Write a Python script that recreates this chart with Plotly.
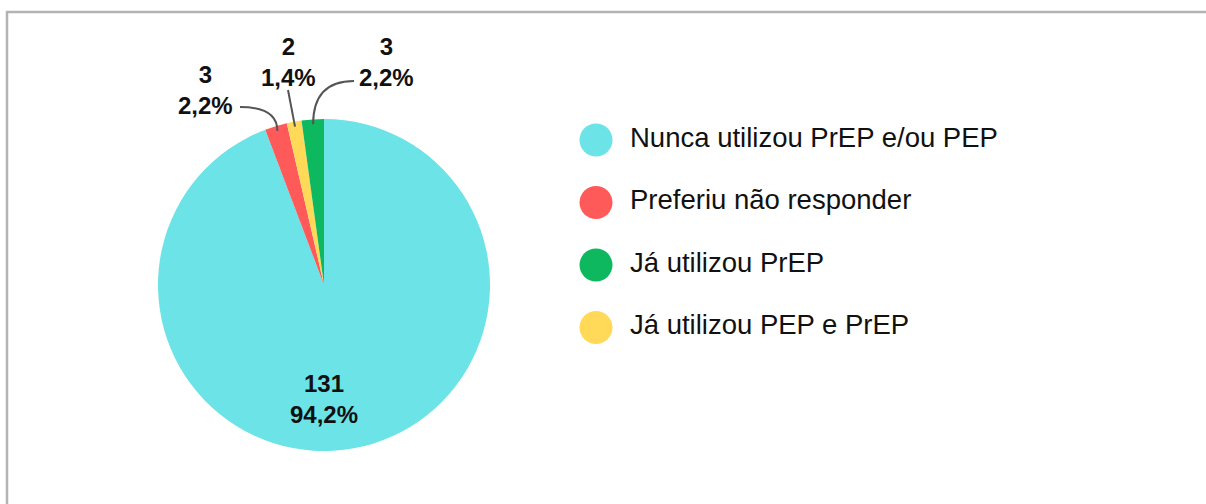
import math
import plotly.graph_objects as go

# ---------------- data ----------------
pie_categories = ["Nunca utilizou PrEP e/ou PEP", "Preferiu não responder",
                  "Já utilizou PEP e PrEP", "Já utilizou PrEP"]
pie_values = [131, 3, 2, 3]
pie_colors = ["#6BE3E7", "#FF5A5A", "#FFD957", "#0DB85E"]

legend_categories = ["Nunca utilizou PrEP e/ou PEP", "Preferiu não responder",
                     "Já utilizou PrEP", "Já utilizou PEP e PrEP"]
legend_colors = ["#6BE3E7", "#FF5A5A", "#0DB85E", "#FFD957"]

# ---------------- layout constants ----------------
W, H = 1206, 504
FONT = "Liberation Sans, Arial, sans-serif"
pie_cx, pie_cy, pie_r = 324, 285, 166          # pixel placement of pie
dom_x = [(pie_cx - pie_r) / W, (pie_cx + pie_r) / W]
dom_y = [1 - (pie_cy + pie_r) / H, 1 - (pie_cy - pie_r) / H]

# label placement for the small slices (index -> (label center x, y, connector start x, y, curved))
small_label_pos = {
    1: (205, 90, 240, 107, True),
    2: (288, 62, 288, 90, False),
    3: (386, 62, 354, 81, True),
}
big_label_pos = (324, 399)
legend_x, legend_y0, legend_step = 596, 140, 62.5
legend_text_gap = 34
LABEL_SIZE = 24
LEGEND_SIZE = 27.5

total = sum(pie_values)


def fmt_pct(v):
    return f"{v / total * 100:.1f}".replace(".", ",") + "%"


fig = go.Figure()

fig.add_trace(go.Pie(
    labels=pie_categories, values=pie_values, sort=False, direction="clockwise",
    rotation=0, marker=dict(colors=pie_colors, line=dict(width=0)),
    textinfo="none", hoverinfo="label+value+percent", showlegend=False,
    domain=dict(x=dom_x, y=dom_y),
))

# legend drawn as markers on a hidden pixel-like axis
ys = [legend_y0 + i * legend_step for i in range(len(legend_categories))]
fig.add_trace(go.Scatter(
    x=[legend_x] * len(legend_categories), y=ys, mode="markers",
    marker=dict(size=33, color=legend_colors, line=dict(width=0)),
    showlegend=False, hoverinfo="skip",
))
fig.add_trace(go.Scatter(
    x=[legend_x + legend_text_gap] * len(legend_categories), y=ys, mode="text",
    text=legend_categories, textposition="middle right",
    textfont=dict(size=LEGEND_SIZE, color="#111111", family=FONT),
    showlegend=False, hoverinfo="skip",
))

annotations = []
shapes = []

# frame
shapes.append(dict(type="rect", xref="x", yref="y", x0=7, y0=12, x1=W + 20, y1=H + 20,
                   line=dict(color="#B3B3B3", width=2.5), layer="below"))

cum = 0
for i, v in enumerate(pie_values):
    mid = (cum + v / 2) / total * 2 * math.pi
    cum += v
    if i == 0:
        bx, by = big_label_pos
        annotations.append(dict(x=bx, y=by, xref="x", yref="y", showarrow=False,
                                text=f"<b>{v}</b><br><b>{fmt_pct(v)}</b>",
                                font=dict(size=LABEL_SIZE, color="#111111", family=FONT)))
        continue
    lx, ly, sx, sy, curved = small_label_pos[i]
    ex = pie_cx + 0.97 * pie_r * math.sin(mid)
    ey = pie_cy - 0.97 * pie_r * math.cos(mid)
    annotations.append(dict(x=lx, y=ly, xref="x", yref="y", showarrow=False,
                            text=f"<b>{v}</b><br><b>{fmt_pct(v)}</b>",
                            font=dict(size=LABEL_SIZE, color="#111111", family=FONT)))
    if curved:
        path = f"M {sx},{sy} Q {ex},{sy} {ex},{ey}"
    else:
        path = f"M {sx},{sy} L {ex},{ey}"
    shapes.append(dict(type="path", xref="x", yref="y", path=path,
                       line=dict(color="#555555", width=2)))

fig.update_layout(
    width=W, height=H, margin=dict(l=0, r=0, t=0, b=0),
    paper_bgcolor="white", plot_bgcolor="rgba(0,0,0,0)",
    xaxis=dict(range=[0, W], visible=False, domain=[0, 1], fixedrange=True),
    yaxis=dict(range=[H, 0], visible=False, domain=[0, 1], fixedrange=True),
    annotations=annotations, shapes=shapes, showlegend=False,
    font=dict(family=FONT),
)

fig.write_html("out.html", config={"displayModeBar": False},
               post_script="document.body.style.margin='0';document.body.style.overflow='hidden';")
